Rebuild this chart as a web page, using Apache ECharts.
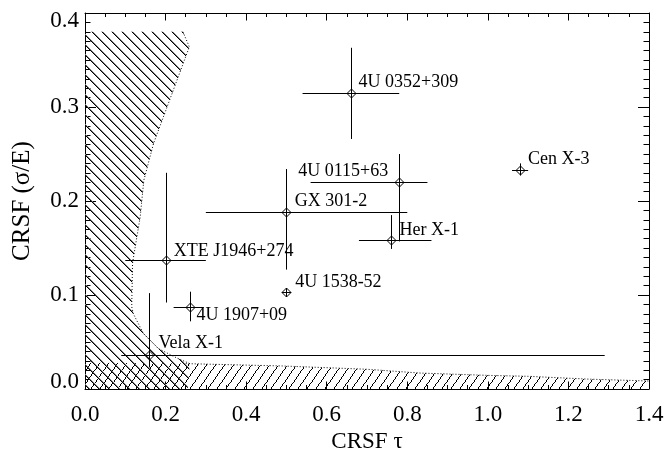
<!DOCTYPE html>
<html>
<head>
<meta charset="utf-8">
<script src="https://cdn.jsdelivr.net/npm/echarts@6/dist/echarts.min.js"></script>
<style>
  html, body { margin: 0; padding: 0; background: #fff; }
  #chart { width: 667px; height: 449px; }
</style>
</head>
<body>
<div id="chart"></div>
<script>
// Cyclotron resonance scattering features: optical depth vs. relative width
const sourceNames = ['4U 0352+309', '4U 0115+63', 'GX 301-2', 'Her X-1', 'Cen X-3',
                     '4U 1538-52', 'XTE J1946+274', '4U 1907+09', 'Vela X-1'];
const tau    = [0.66, 0.78, 0.50, 0.76, 1.08, 0.50, 0.20, 0.26, 0.16];
const tauLo  = [0.54, 0.56, 0.30, 0.68, 1.06, 0.49, 0.10, 0.22, 0.09];
const tauHi  = [0.78, 0.85, 0.80, 0.86, 1.10, 0.51, 0.30, 0.295, 1.29];
const sigma   = [0.315, 0.22, 0.188, 0.158, 0.233, 0.103, 0.137, 0.087, 0.036];
const sigmaLo = [0.266, 0.157, 0.127, 0.149, 0.227, 0.101, 0.092, 0.072, 0.023];
const sigmaHi = [0.363, 0.25, 0.234, 0.185, 0.240, 0.106, 0.230, 0.1035, 0.102];

// Regions where a feature could not be detected
const leftRegionTau   = [0, 0.243, 0.259, 0.17, 0.146, 0.137, 0.118, 0.116, 0.12, 0.145, 0.182, 0.228, 0.26, 0.255, 0];
const leftRegionSigma = [0.38, 0.38, 0.364, 0.261, 0.222, 0.183, 0.134, 0.0875, 0.08, 0.059, 0.043, 0.033, 0.027, 0, 0];
const bottomRegionTau   = [0, 0.25, 0.49, 0.7, 0.83, 1.0, 1.1, 1.25, 1.4, 1.4, 0];
const bottomRegionSigma = [0.028, 0.027, 0.0245, 0.021, 0.017, 0.0145, 0.0135, 0.0105, 0.0085, 0, 0];

// Tick labels
const xTickLabels = ['0.0', '0.2', '0.4', '0.6', '0.8', '1.0', '1.2', '1.4'];
const yTickLabels = ['0.0', '0.1', '0.2', '0.3', '0.4'];

// Label placement around each marker: [dx, dy, align]
const labelPlacement = [
  [7.7, -10.3, 'left'], [-11, -11, 'right'], [8.3, -11.3, 'left'], [8.3, -10, 'left'],
  [8, -11, 'left'], [8.7, -10, 'left'], [8.3, -9.3, 'left'], [6.7, 7.7, 'left'], [9, -11.5, 'left']
];

const SERIF = '"Liberation Serif", "Times New Roman", Times, serif';

// Pixel-drawn hatch tiles: one stroke per row so the lines stay crisp
function makeHatch(w, h, xAtRow, thick) {
  const c = document.createElement('canvas');
  c.width = w; c.height = h;
  const g = c.getContext('2d');
  for (let y = 0; y < h; y++) {
    const x = ((Math.round(xAtRow(y)) % w) + w) % w;
    g.fillStyle = '#000';
    g.fillRect(x, y, 1, 1);
    if (thick) {
      g.fillStyle = '#777';
      g.fillRect((x + 1) % w, y, 1, 1);
    }
  }
  return { image: c, repeat: 'repeat' };
}
// "\" hatching, 45 degrees, 10 px apart
const backHatch = makeHatch(10, 10, function (y) { return y; }, true);
// "/" hatching, steeper, 9 px apart
const fwdHatch = makeHatch(9, 13, function (y) { return (12 - y) * 9 / 13; }, false);

function regionSeries(xs, ys, fill, edgeFrom, edgeTo) {
  return {
    type: 'custom',
    coordinateSystem: 'cartesian2d',
    xAxisIndex: 0, yAxisIndex: 0,
    silent: true,
    clip: true,
    data: [[xs[0], ys[0]]],
    renderItem: function (params, api) {
      const pts = xs.map(function (x, i) { return api.coord([x, ys[i]]); });
      return {
        type: 'group',
        children: [
          { type: 'polygon', shape: { points: pts }, style: { fill: fill, stroke: null } },
          { type: 'polyline', shape: { points: pts.slice(edgeFrom, edgeTo) },
            style: { stroke: '#000', lineWidth: 1, lineDash: [1, 2], fill: null } }
        ]
      };
    }
  };
}

const pointData = sourceNames.map(function (n, i) {
  return [tau[i], sigma[i], tauLo[i], tauHi[i], sigmaLo[i], sigmaHi[i], i];
});

function renderPoint(params, api) {
  const t = api.value(0), s = api.value(1);
  const c = api.coord([t, s]);
  const xl = api.coord([api.value(2), s])[0];
  const xh = api.coord([api.value(3), s])[0];
  const yl = api.coord([t, api.value(4)])[1];
  const yh = api.coord([t, api.value(5)])[1];
  const cx = Math.round(c[0]) + 0.5, cy = Math.round(c[1]) + 0.5;
  const r = 4.5;
  const idx = api.value(6);
  const lp = labelPlacement[idx];
  const ln = { stroke: '#000', lineWidth: 1 };
  return {
    type: 'group',
    children: [
      { type: 'line', shape: { x1: Math.min(xl, cx - r), y1: cy, x2: Math.max(xh, cx + r), y2: cy }, style: ln },
      { type: 'line', shape: { x1: cx, y1: Math.max(yl, cy + r), x2: cx, y2: Math.min(yh, cy - r) }, style: ln },
      { type: 'polygon', shape: { points: [[cx, cy - r], [cx + r, cy], [cx, cy + r], [cx - r, cy]] },
        style: { fill: null, stroke: '#000', lineWidth: 1 } },
      { type: 'text', x: c[0] + lp[0], y: c[1] + lp[1],
        style: { text: sourceNames[idx], font: '18px ' + SERIF, fill: '#000',
                 align: lp[2], verticalAlign: 'middle' } }
    ]
  };
}

const axisLineStyle = { show: true, onZero: false, lineStyle: { color: '#000', width: 1 } };

const chart = echarts.init(document.getElementById('chart'), null, { renderer: 'canvas' });
chart.setOption({
  animation: false,
  backgroundColor: '#fff',
  grid: { left: 85, right: 18, top: 13, bottom: 60, containLabel: false, outerBoundsMode: 'none' },
  xAxis: [
    {
      type: 'value', min: 0, max: 1.4, interval: 0.2, position: 'bottom',
      name: 'CRSF τ', nameLocation: 'middle', nameGap: 36,
      nameTextStyle: { fontFamily: SERIF, fontSize: 23, color: '#000' },
      axisLine: axisLineStyle,
      axisTick: { inside: true, length: 7.5, lineStyle: { color: '#000' } },
      minorTick: { show: true, splitNumber: 4, length: 4, lineStyle: { color: '#000' } },
      splitLine: { show: false }, minorSplitLine: { show: false },
      axisLabel: {
        fontFamily: SERIF, fontSize: 23, color: '#000', margin: 14,
        formatter: function (v) { return xTickLabels[Math.round(v / 0.2)]; }
      }
    },
    {
      type: 'value', min: 0, max: 1.4, interval: 0.2, position: 'top',
      axisLine: axisLineStyle,
      axisTick: { inside: true, length: 7.5, lineStyle: { color: '#000' } },
      minorTick: { show: true, splitNumber: 4, length: 4, lineStyle: { color: '#000' } },
      splitLine: { show: false }, axisLabel: { show: false }
    }
  ],
  yAxis: [
    {
      type: 'value', min: 0, max: 0.4, interval: 0.1, position: 'left',
      name: 'CRSF (σ/E)', nameLocation: 'middle', nameGap: 50,
      nameTextStyle: { fontFamily: SERIF, fontSize: 25, color: '#000' },
      axisLine: axisLineStyle,
      axisTick: { inside: true, length: 11, lineStyle: { color: '#000' } },
      minorTick: { show: true, splitNumber: 10, length: 5.5, lineStyle: { color: '#000' } },
      splitLine: { show: false }, minorSplitLine: { show: false },
      axisLabel: {
        fontFamily: SERIF, fontSize: 23, color: '#000', margin: 6, lineHeight: 15,
        verticalAlignMinLabel: 'bottom', verticalAlignMaxLabel: 'top',
        formatter: function (v) { return yTickLabels[Math.round(v / 0.1)]; }
      }
    },
    {
      type: 'value', min: 0, max: 0.4, interval: 0.1, position: 'right',
      axisLine: axisLineStyle,
      axisTick: { inside: true, length: 11, lineStyle: { color: '#000' } },
      minorTick: { show: true, splitNumber: 10, length: 5.5, lineStyle: { color: '#000' } },
      splitLine: { show: false }, axisLabel: { show: false }
    }
  ],
  series: [
    regionSeries(bottomRegionTau, bottomRegionSigma, fwdHatch, 1, 9),
    regionSeries(leftRegionTau, leftRegionSigma, backHatch, 1, 13),
    {
      type: 'custom',
      coordinateSystem: 'cartesian2d',
      xAxisIndex: 0, yAxisIndex: 0,
      encode: { x: 0, y: 1 },
      data: pointData,
      renderItem: renderPoint,
      clip: false
    }
  ]
});
</script>
</body>
</html>
